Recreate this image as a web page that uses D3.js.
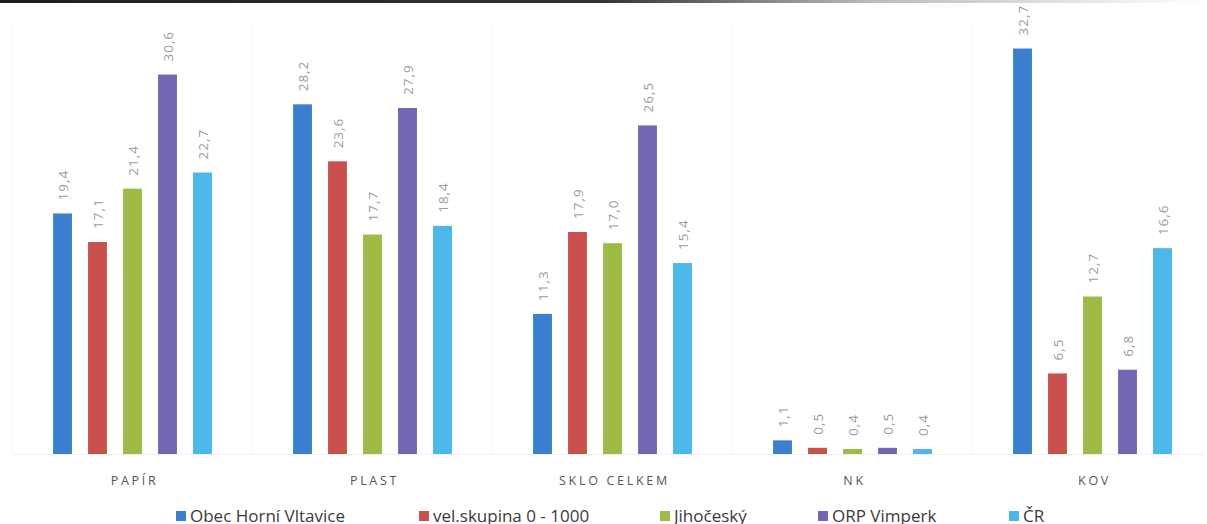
<!DOCTYPE html>
<html><head><meta charset="utf-8">
<script src="https://cdn.jsdelivr.net/npm/d3@7"></script>
<style>body{margin:0;background:#fff}svg{display:block}</style>
</head><body>
<svg id="c" width="1207" height="524"></svg>
<script>
const categories = ["PAPÍR", "PLAST", "SKLO CELKEM", "NK", "KOV"];
const seriesNames = ["Obec Horní Vltavice", "vel.skupina 0 - 1000", "Jihočeský", "ORP Vimperk", "ČR"];
const obec   = [19.4, 28.2, 11.3, 1.1, 32.7];
const velsk  = [17.1, 23.6, 17.9, 0.5, 6.5];
const jihoc  = [21.4, 17.7, 17.0, 0.4, 12.7];
const orp    = [30.6, 27.9, 26.5, 0.5, 6.8];
const cr     = [22.7, 18.4, 15.4, 0.4, 16.6];
const colors = ["#3b80cf", "#c9504c", "#9cbc45", "#7466b2", "#4cb7e9"];

const seriesValues = [obec, velsk, jihoc, orp, cr];
const svg = d3.select("#c");

// scan top edge
const defs = svg.append("defs");
const g0 = defs.append("linearGradient").attr("id","topg");
g0.append("stop").attr("offset","0").attr("stop-color","#1e1e1e");
g0.append("stop").attr("offset","0.5").attr("stop-color","#333");
g0.append("stop").attr("offset","0.72").attr("stop-color","#bbb");
g0.append("stop").attr("offset","1").attr("stop-color","#fff");
svg.append("rect").attr("x",0).attr("y",0).attr("width",1207).attr("height",3).attr("fill","url(#topg)");

const x0 = d3.scaleBand().domain(categories).range([12.5, 1212.5]).paddingInner(0).paddingOuter(0);
const x1 = d3.scaleBand().domain(seriesNames).range([0, 175]).paddingInner(0.46).paddingOuter(0.23);
const y = d3.scaleLinear().domain([0, 35]).range([454, 20]);

// faint category separators
svg.append("g").selectAll("line").data(categories.concat(["_end"])).join("line")
  .attr("x1", (d,i)=> 12.5 + i*x0.bandwidth()).attr("x2",(d,i)=> 12.5 + i*x0.bandwidth())
  .attr("y1", 20).attr("y2", 454).attr("stroke","#f7f7f7").attr("stroke-width",1);

// baseline
svg.append("line").attr("x1",13).attr("x2",1203).attr("y1",y(0)+0.5).attr("y2",y(0)+0.5)
  .attr("stroke","#f0f0f0").attr("stroke-width",1);

const groups = svg.append("g").selectAll("g").data(categories).join("g")
  .attr("transform", d => `translate(${x0(d) + (x0.bandwidth()-175)/2},0)`);

groups.each(function(cat, ci){
  const g = d3.select(this);
  const data = seriesNames.map((s, si) => ({s, si, v: seriesValues[si][ci]}));
  g.selectAll("rect").data(data).join("rect")
    .attr("x", d => x1(d.s)).attr("width", x1.bandwidth())
    .attr("y", d => y(d.v)).attr("height", d => y(0) - y(d.v))
    .attr("fill", d => colors[d.si]);
  g.selectAll("text").data(data).join("text")
    .attr("transform", d => `translate(${x1(d.s) + x1.bandwidth()/2 + 2},${y(d.v) - 13}) rotate(-90)`)
    .attr("text-anchor","start").attr("dominant-baseline","middle")
    .attr("font-family","Open Sans, sans-serif").attr("font-size","13.5px")
    .attr("letter-spacing","1px").attr("fill","#9c9c9c")
    .text(d => d.v.toFixed(1).replace(".", ","));
});

// category labels
svg.append("g").selectAll("text").data(categories).join("text")
  .attr("x", d => x0(d) + x0.bandwidth()/2 + 2).attr("y", 485)
  .attr("text-anchor","middle").attr("font-family","Open Sans, sans-serif")
  .attr("font-size","12.5px").attr("letter-spacing","2.7px").attr("fill","#555")
  .text(d => d);

// legend
const legX = [176, 419, 660, 818, 1009];
const leg = svg.append("g").selectAll("g").data(seriesNames).join("g")
  .attr("transform", (d,i) => `translate(${legX[i]},0)`);
leg.append("rect").attr("x",0).attr("y",511).attr("width",10).attr("height",10)
  .attr("fill",(d,i)=>colors[i]);
leg.append("text").attr("x",14).attr("y",521.5)
  .attr("font-family","Open Sans, sans-serif").attr("font-size","17px").attr("fill","#3a3a3a")
  .text(d => d);
</script>
</body></html>
